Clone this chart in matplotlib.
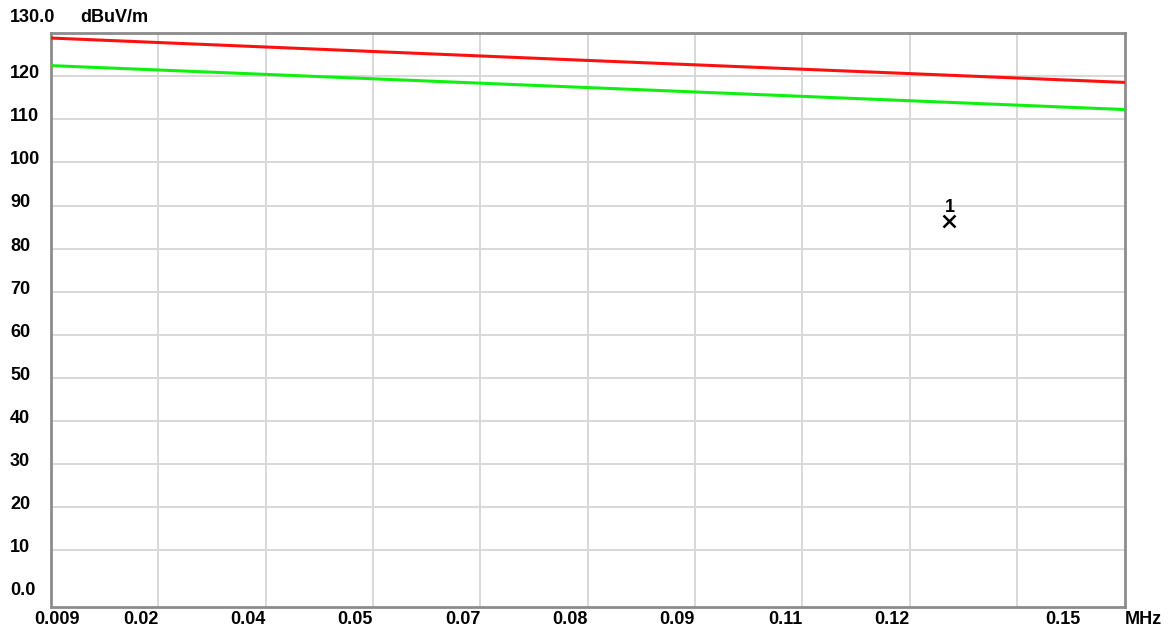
import matplotlib
matplotlib.use("Agg")
import matplotlib.pyplot as plt
import matplotlib.transforms as mtransforms
import numpy as np

# frequency axis (MHz) and limit lines
x_min, x_max = 0.009, 0.15
y_min, y_max = -3.1, 130.0

red_freq = [0.009, 0.0795, 0.15]
red_level = [128.9, 123.7, 118.6]

green_freq = [0.009, 0.0795, 0.15]
green_level = [122.5, 117.4, 112.3]

marker_freq = [0.127]
marker_level = [86.3]
marker_names = ["1"]

x_tick_labels = ["0.02", "0.04", "0.05", "0.07", "0.08", "0.09", "0.11", "0.12"]
y_grid = list(range(10, 130, 10))
y_tick_labels = ["0.0"] + [str(v) for v in y_grid]

plt.rcParams["font.family"] = ["Liberation Sans", "DejaVu Sans"]
FS = 13

fig = plt.figure(figsize=(11.68, 6.32), dpi=100)
ax = fig.add_axes([51 / 1168, 1 - 606.5 / 632, (1124.5 - 51) / 1168, (606.5 - 33.3) / 632])
ax.set_xlim(x_min, x_max)
ax.set_ylim(y_min, y_max)

x_grid = np.linspace(x_min, x_max, 11)[1:-1]
for xv in x_grid:
    ax.axvline(xv, color="#d8d8d8", lw=1.4, zorder=1)
for yv in y_grid:
    ax.axhline(yv, color="#d8d8d8", lw=1.4, zorder=1)

ax.plot(red_freq, red_level, color="#ff1010", lw=2.2, zorder=3)
ax.plot(green_freq, green_level, color="#10f010", lw=2.2, zorder=3)

ax.plot(marker_freq, marker_level, "x", color="black", ms=9, mew=1.8, zorder=4)
for f, v, name in zip(marker_freq, marker_level, marker_names):
    ax.annotate(name, (f, v), xytext=(0, 10), textcoords="offset points",
                ha="center", va="center", fontsize=FS, fontweight="bold")

ax.set_xticks([])
ax.set_yticks([])
for sp in ax.spines.values():
    sp.set_color("#8c8c8c")
    sp.set_linewidth(2.0)

# y labels, left aligned near figure edge
ytrans = mtransforms.blended_transform_factory(fig.transFigure, ax.transData)
for yv, lab in zip([0] + y_grid, y_tick_labels):
    ax.text(10 / 1168, yv + 0.6, lab, transform=ytrans, ha="left", va="center",
            fontsize=FS, fontweight="bold", clip_on=False)

# x labels, right aligned on gridlines
xtrans = mtransforms.blended_transform_factory(ax.transData, fig.transFigure)
label_y = 1 - 620 / 632
for xv, lab in zip(x_grid[:8], x_tick_labels):
    ax.text(xv, label_y, lab, transform=xtrans, ha="right", va="center",
            fontsize=FS, fontweight="bold", clip_on=False)
ax.text(57 / 1168, label_y, "0.009", transform=fig.transFigure, ha="center",
        va="center", fontsize=FS, fontweight="bold")
ax.text(1080 / 1168, label_y, "0.15", transform=fig.transFigure, ha="right",
        va="center", fontsize=FS, fontweight="bold")
ax.text(1143 / 1168, label_y, "MHz", transform=fig.transFigure, ha="center",
        va="center", fontsize=FS, fontweight="bold")

# header
ax.text(10 / 1168, 1 - 18 / 632, "130.0", transform=fig.transFigure, ha="left",
        va="center", fontsize=FS, fontweight="bold")
ax.text(80 / 1168, 1 - 18 / 632, "dBuV/m", transform=fig.transFigure, ha="left",
        va="center", fontsize=FS, fontweight="bold")

fig.savefig("out.png", dpi=100)
